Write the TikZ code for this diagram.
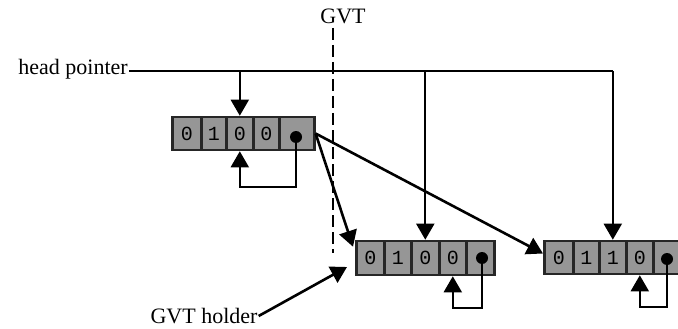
\documentclass[tikz,border=0pt]{standalone}
\usepackage{fontspec}
\setmainfont{Liberation Serif}
\newfontfamily\cellfont{Liberation Mono}
\usetikzlibrary{arrows.meta}
\definecolor{cellgray}{RGB}{150,150,150}
\tikzset{
  cell/.style={draw=black!85, line width=2.6pt, fill=cellgray, anchor=west, inner sep=0pt,
    font=\cellfont\fontsize{20}{20}\selectfont},
  dotmark/.style={circle, fill=black, inner sep=0pt, minimum size=12pt},
  arr/.style={line width=2.6pt, -{Triangle[width=18pt,length=16pt]}},
  thinarr/.style={line width=2pt, -{Triangle[width=18pt,length=16pt]}},
  headline/.style={line width=2pt},
  gvtline/.style={line width=2.4pt, dash pattern=on 12pt off 5pt},
  lbl/.style={font=\fontsize{22}{25}\selectfont, inner sep=1pt}
}
\begin{document}
\begin{tikzpicture}[x=1pt,y=-1pt]
\useasboundingbox (0,0) rectangle (678,329);
% box 1
\node[cell, minimum width=29pt, minimum height=33pt] (a1) at (171,133.5) {0};
\node[cell, minimum width=25pt, minimum height=33pt] (a2) at (200,133.5) {1};
\node[cell, minimum width=27pt, minimum height=33pt] (a3) at (225,133.5) {0};
\node[cell, minimum width=26pt, minimum height=33pt] (a4) at (252,133.5) {0};
\node[cell, minimum width=35pt, minimum height=33pt] (a5) at (278,133.5) {};
\node[dotmark] (d1) at (296,137) {};
% box 2
\node[cell, minimum width=28pt, minimum height=34pt] (b1) at (355,258) {0};
\node[cell, minimum width=27pt, minimum height=34pt] (b2) at (383,258) {1};
\node[cell, minimum width=28pt, minimum height=34pt] (b3) at (410,258) {0};
\node[cell, minimum width=27pt, minimum height=34pt] (b4) at (438,258) {0};
\node[cell, minimum width=28pt, minimum height=34pt] (b5) at (465,258) {};
\node[dotmark] (d2) at (482,258) {};
% box 3
\node[cell, minimum width=29pt, minimum height=33pt] (c1) at (543,257.5) {0};
\node[cell, minimum width=26pt, minimum height=33pt] (c2) at (572,257.5) {1};
\node[cell, minimum width=27pt, minimum height=33pt] (c3) at (598,257.5) {1};
\node[cell, minimum width=27pt, minimum height=33pt] (c4) at (625,257.5) {0};
\node[cell, minimum width=27pt, minimum height=33pt] (c5) at (652,257.5) {};
\node[dotmark] (d3) at (667,259) {};
% labels
\node[lbl, anchor=east] (hp) at (129,69) {head pointer};
\node[lbl] (gvt) at (343,16) {GVT};
\node[lbl] (gh) at (204,316) {GVT holder};
% GVT dashed line
\coordinate (gtop) at (333,28);
\coordinate (gbot) at (333,253);
\draw[gvtline] (gtop) -- (gbot);
% head pointer line
\coordinate (hs) at (129,71);
\draw[headline] (hs) -- (hs -| c3.north);
\draw[thinarr] (hs -| c3.north) -- (c3.north);
\draw[thinarr] (hs -| a3.north) -- (a3.north);
\draw[thinarr] (hs -| b3.north) -- (b3.north);
% self loops
\draw[thinarr] (d1.center) -- ++(0,50) -| (a3.south);
\draw[thinarr] (d2.center) -- ++(0,50) -| (b4.south);
\draw[thinarr] (d3.center) -- ++(0,48) -| (c4.south);
% next pointers
\draw[arr] (a5.east) -- ([xshift=-2pt,yshift=-7pt]b1.north west);
\draw[arr] (a5.east) -- ([yshift=4pt]c1.west);
% GVT holder
\draw[arr] (gh.east) -- ([xshift=-8pt,yshift=-9pt]b1.west);
\end{tikzpicture}
\end{document}
